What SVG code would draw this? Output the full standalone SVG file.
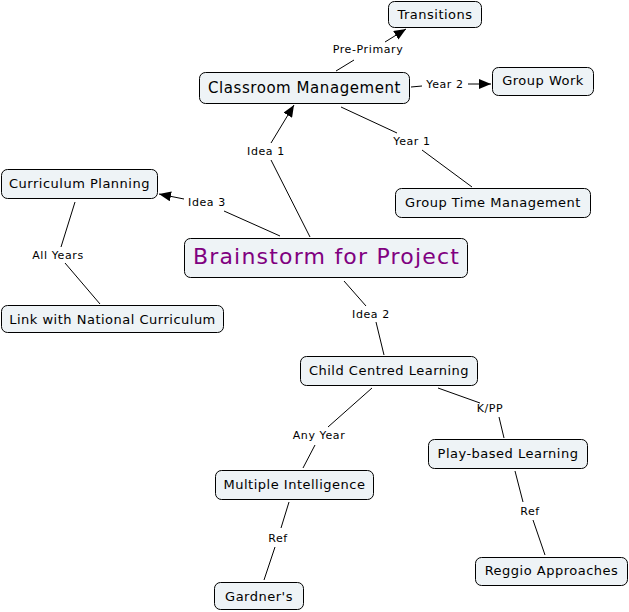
<svg xmlns="http://www.w3.org/2000/svg" width="629" height="612" viewBox="0 0 629 612">
<style>
.n rect{fill:#eef3f6;stroke:#000;stroke-width:1}
.n text{font-family:"DejaVu Sans",Verdana,sans-serif;font-size:13px;letter-spacing:0.5px;fill:#000;text-anchor:middle}
.l{font-family:"DejaVu Sans",Verdana,sans-serif;font-size:11px;letter-spacing:0.6px;fill:#000;text-anchor:middle}
#conn line{stroke:#000;stroke-width:1}
</style>
<defs>
<marker id="ah" viewBox="0 0 12 10" refX="12" refY="5" markerWidth="12" markerHeight="10" markerUnits="userSpaceOnUse" orient="auto">
<path d="M0,0 L12,5 L0,10 Z" fill="#000"/>
</marker>
</defs>
<rect width="629" height="612" fill="#fff"/>
<g id="conn">
<line x1="336" y1="71" x2="354" y2="60"/>
<line x1="385" y1="42" x2="406" y2="29" marker-end="url(#ah)"/>
<line x1="411" y1="87" x2="422" y2="86"/>
<line x1="468" y1="84" x2="491" y2="84" marker-end="url(#ah)"/>
<line x1="341" y1="107" x2="397" y2="133"/>
<line x1="422" y1="150" x2="472" y2="187"/>
<line x1="310" y1="237" x2="271" y2="160"/>
<line x1="271" y1="143" x2="294" y2="105" marker-end="url(#ah)"/>
<line x1="280" y1="236" x2="224" y2="211"/>
<line x1="184" y1="199" x2="159" y2="194" marker-end="url(#ah)"/>
<line x1="75" y1="202" x2="61" y2="247"/>
<line x1="65" y1="263" x2="100" y2="304"/>
<line x1="344" y1="281" x2="366" y2="306"/>
<line x1="376" y1="322" x2="384" y2="355"/>
<line x1="372" y1="388" x2="328" y2="427"/>
<line x1="315" y1="445" x2="303" y2="468"/>
<line x1="438" y1="388" x2="480" y2="403"/>
<line x1="499" y1="417" x2="504" y2="438"/>
<line x1="289" y1="502" x2="281" y2="528"/>
<line x1="275" y1="547" x2="264" y2="580"/>
<line x1="515" y1="471" x2="523" y2="502"/>
<line x1="533" y1="520" x2="545" y2="555"/>
<text class="l" x="368" y="53">Pre-Primary</text>
<text class="l" x="445" y="88">Year 2</text>
<text class="l" x="412" y="145">Year 1</text>
<text class="l" x="266" y="155">Idea 1</text>
<text class="l" x="207" y="206">Idea 3</text>
<text class="l" x="58" y="259">All Years</text>
<text class="l" x="371" y="318">Idea 2</text>
<text class="l" x="319" y="439">Any Year</text>
<text class="l" x="490" y="412">K/PP</text>
<text class="l" x="278" y="542">Ref</text>
<text class="l" x="530" y="515">Ref</text>
</g>
<g id="transitions" class="n"><rect x="388.5" y="1.5" width="93" height="26" rx="6"/><text x="435" y="19">Transitions</text></g>
<g id="classroom" class="n"><rect x="199.5" y="72.5" width="210" height="31" rx="6"/><text x="304.5" y="93" style="font-size:15px;letter-spacing:0.55px">Classroom Management</text></g>
<g id="groupwork" class="n"><rect x="492.5" y="67.5" width="101" height="28" rx="6"/><text x="543" y="85">Group Work</text></g>
<g id="grouptime" class="n"><rect x="395.5" y="188.5" width="195" height="29" rx="6"/><text x="493" y="207">Group Time Management</text></g>
<g id="curriculum" class="n"><rect x="1.5" y="169.5" width="156" height="29" rx="6"/><text x="79.5" y="188">Curriculum Planning</text></g>
<g id="brainstorm" class="n"><rect x="184.5" y="238.5" width="283" height="39" rx="6"/><text x="326.5" y="264" style="font-size:22px;letter-spacing:1.2px;fill:#800080">Brainstorm for Project</text></g>
<g id="national" class="n"><rect x="1.5" y="305.5" width="222" height="27" rx="6"/><text x="112.5" y="324">Link with National Curriculum</text></g>
<g id="childcentred" class="n"><rect x="300.5" y="356.5" width="177" height="29" rx="6"/><text x="389" y="375">Child Centred Learning</text></g>
<g id="playbased" class="n"><rect x="428.5" y="439.5" width="159" height="29" rx="6"/><text x="508" y="458">Play-based Learning</text></g>
<g id="multiple" class="n"><rect x="215.5" y="470.5" width="158" height="29" rx="6"/><text x="294.5" y="489">Multiple Intelligence</text></g>
<g id="reggio" class="n"><rect x="475.5" y="557.5" width="152" height="28" rx="6"/><text x="551.5" y="575">Reggio Approaches</text></g>
<g id="gardner" class="n"><rect x="214.5" y="582.5" width="89" height="27" rx="6"/><text x="259" y="601">Gardner's</text></g>
</svg>
